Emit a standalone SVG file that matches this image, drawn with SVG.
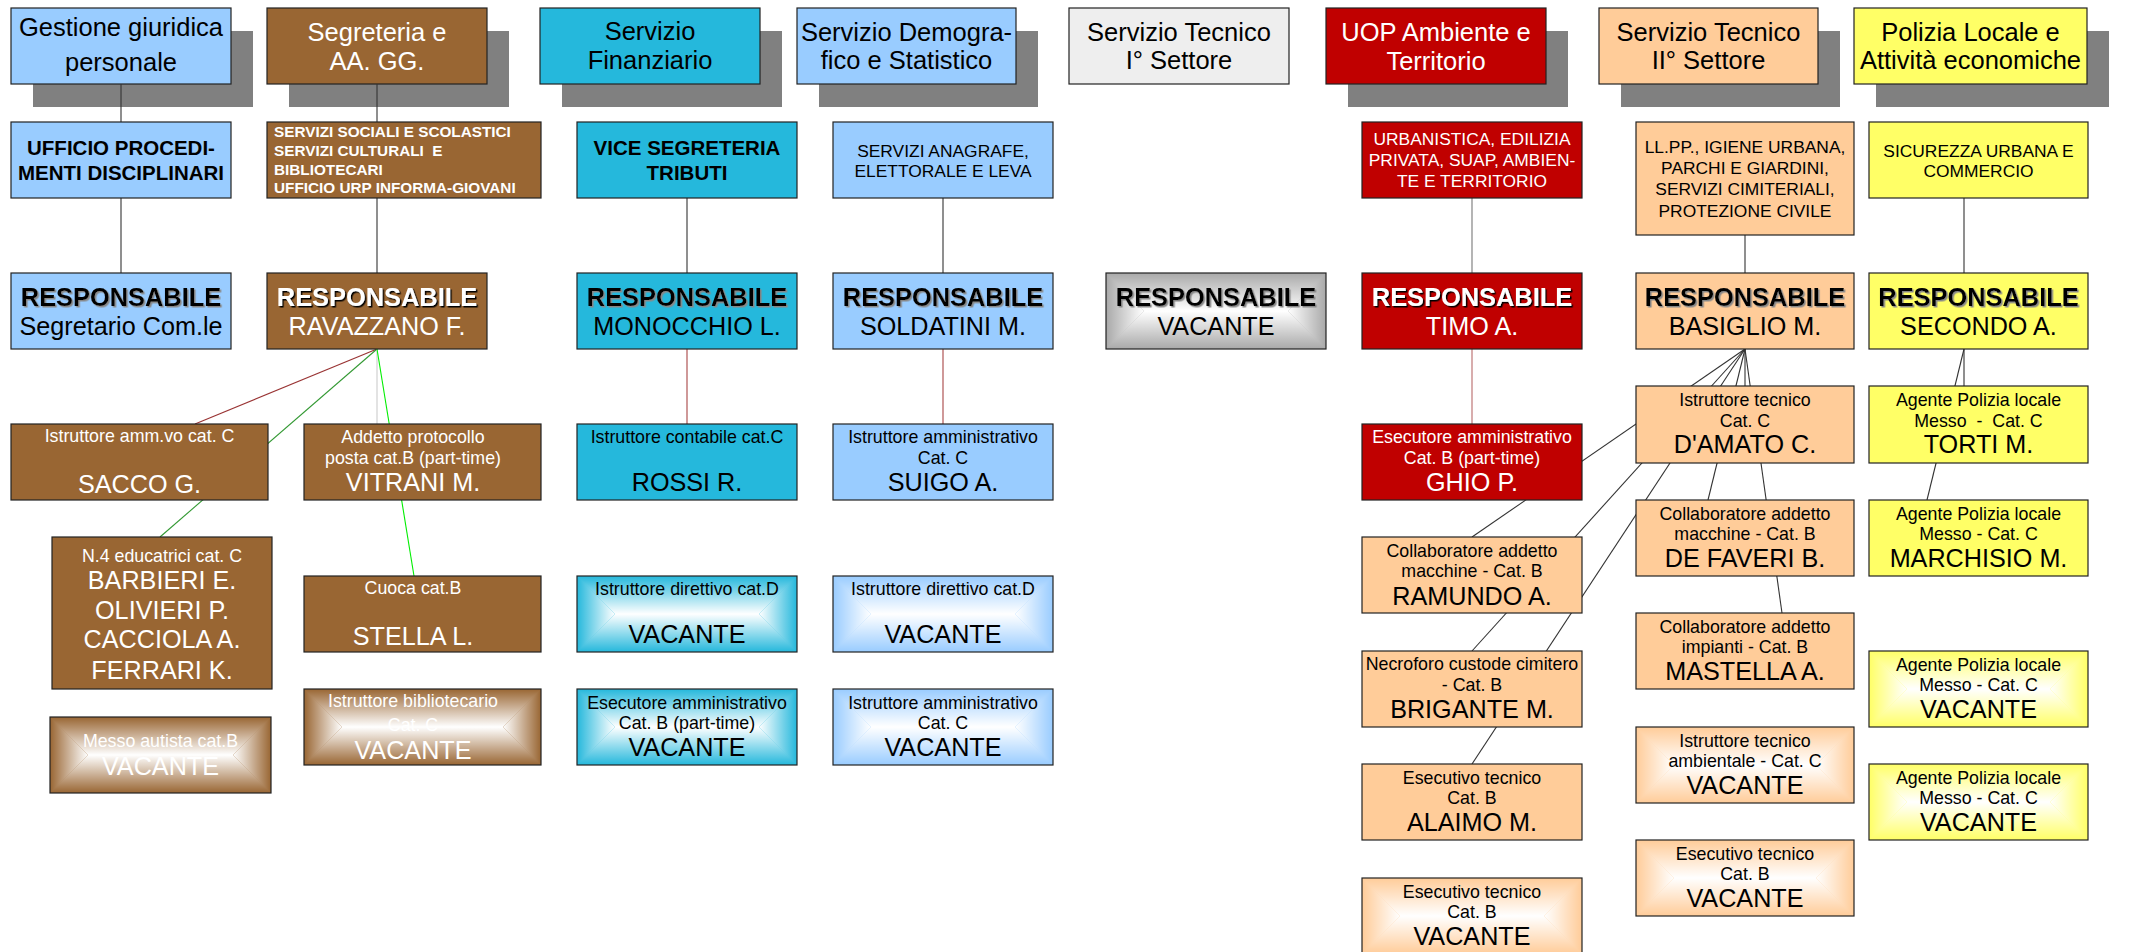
<svg xmlns="http://www.w3.org/2000/svg" width="2132" height="952" viewBox="0 0 2132 952">
<style>
.box{stroke:#222;stroke-width:1.2}
.frame{fill:none;stroke:#222;stroke-width:1.2}
.shd{fill:#808080}
text{font-family:"Liberation Sans",Arial,sans-serif;text-anchor:middle;fill:#000}
.h{font-size:25.5px}
.n{font-size:25.2px}
.s{font-size:17.8px}
.m{font-size:17.4px}
.b{font-size:20.5px;font-weight:bold}
.r{font-size:25.4px;font-weight:bold;filter:url(#dsk)}
.rw{font-size:25.4px;font-weight:bold;fill:#fff;filter:url(#dsw)}
.w{fill:#fff}
.lb{fill:#99ccff}.br{fill:#996633}.cy{fill:#25b8dc}.gy{fill:#eeeeee}.rd{fill:#c00000}.pc{fill:#ffcc99}.yl{fill:#ffff66}.gv{fill:#a9a9a9}
.gt{fill:url(#gT)}.gb{fill:url(#gB)}.gl{fill:url(#gL)}.gr{fill:url(#gR)}
.c{fill:none;stroke:#333;stroke-width:1.1}
</style>
<defs>
<filter id="dsk" x="-5%" y="-20%" width="110%" height="140%"><feDropShadow dx="1.5" dy="1.5" stdDeviation="0.4" flood-color="#888"/></filter>
<filter id="dsw" x="-5%" y="-20%" width="110%" height="140%"><feDropShadow dx="1.5" dy="1.5" stdDeviation="0.4" flood-color="#000"/></filter>
<linearGradient id="gT" x1="0" y1="0" x2="0" y2="1"><stop offset="0" stop-color="#fff" stop-opacity="0"/><stop offset="1" stop-color="#fff" stop-opacity="1"/></linearGradient>
<linearGradient id="gB" x1="0" y1="0" x2="0" y2="1"><stop offset="0" stop-color="#fff" stop-opacity="1"/><stop offset="1" stop-color="#fff" stop-opacity="0"/></linearGradient>
<linearGradient id="gL" x1="0" y1="0" x2="1" y2="0"><stop offset="0" stop-color="#fff" stop-opacity="0"/><stop offset="1" stop-color="#fff" stop-opacity="1"/></linearGradient>
<linearGradient id="gR" x1="0" y1="0" x2="1" y2="0"><stop offset="0" stop-color="#fff" stop-opacity="1"/><stop offset="1" stop-color="#fff" stop-opacity="0"/></linearGradient>
</defs>
<rect width="2132" height="952" fill="#fff"/>

<!-- Header nodes -->
<g id="h-gestione"><rect class="shd" x="33" y="31" width="220" height="76"/><rect class="box lb" x="11" y="8" width="220" height="76"/><text class="h" x="121" y="36">Gestione giuridica</text><text class="h" x="121" y="71">personale</text></g>
<g id="h-segreteria"><rect class="shd" x="289" y="31" width="220" height="76"/><rect class="box br" x="267" y="8" width="220" height="76"/><text class="h w" x="377" y="40.5">Segreteria e</text><text class="h w" x="377" y="69.5">AA. GG.</text></g>
<g id="h-finanziario"><rect class="shd" x="562" y="31" width="220" height="76"/><rect class="box cy" x="540" y="8" width="220" height="76"/><text class="h" x="650" y="40">Servizio</text><text class="h" x="650" y="69">Finanziario</text></g>
<g id="h-demografico"><rect class="shd" x="819" y="31" width="219" height="76"/><rect class="box lb" x="797" y="8" width="219" height="76"/><text class="h" x="906.5" y="40.5">Servizio Demogra-</text><text class="h" x="906.5" y="69">fico e Statistico</text></g>
<g id="h-tecnico1"><rect class="box gy" x="1069" y="8" width="220" height="76"/><text class="h" x="1179" y="40.5">Servizio Tecnico</text><text class="h" x="1179" y="69">I° Settore</text></g>
<g id="h-uop"><rect class="shd" x="1348" y="31" width="220" height="76"/><rect class="box rd" x="1326" y="8" width="220" height="76"/><text class="h w" x="1436" y="40.5">UOP Ambiente e</text><text class="h w" x="1436" y="69.5">Territorio</text></g>
<g id="h-tecnico2"><rect class="shd" x="1621" y="31" width="219" height="76"/><rect class="box pc" x="1599" y="8" width="219" height="76"/><text class="h" x="1708.5" y="40.5">Servizio Tecnico</text><text class="h" x="1708.5" y="69">II° Settore</text></g>
<g id="h-polizia"><rect class="shd" x="1876" y="31" width="233" height="76"/><rect class="box yl" x="1854" y="8" width="233" height="76"/><text class="h" x="1970.5" y="40.5">Polizia Locale e</text><text class="h" x="1970.5" y="69">Attività economiche</text></g>

<!-- Connectors -->
<g id="connectors">
<line class="c" x1="121" y1="84" x2="121" y2="122"/>
<line class="c" x1="121" y1="198" x2="121" y2="273"/>
<line class="c" x1="377" y1="84" x2="377" y2="122"/>
<line class="c" x1="377" y1="198" x2="377" y2="273"/>
<line class="c" x1="687" y1="198" x2="687" y2="273"/>
<line class="c" x1="943" y1="198" x2="943" y2="273"/>
<line class="c" x1="1472" y1="198" x2="1472" y2="273" style="stroke:#777"/>
<line class="c" x1="1745" y1="235" x2="1745" y2="273"/>
<line class="c" x1="1964" y1="198" x2="1964" y2="273"/>
<line class="c" x1="377" y1="349" x2="195" y2="424" style="stroke:#993333"/>
<line class="c" x1="377" y1="349" x2="160" y2="537" style="stroke:#339933"/>
<line class="c" x1="377" y1="349" x2="377" y2="424" style="stroke:#cccccc"/>
<line class="c" x1="377" y1="349" x2="414" y2="576" style="stroke:#00ee00"/>
<line class="c" x1="687" y1="349" x2="687" y2="424" style="stroke:#a84444"/>
<line class="c" x1="943" y1="349" x2="943" y2="424" style="stroke:#a84444"/>
<line class="c" x1="1472" y1="349" x2="1472" y2="424" style="stroke:#b86a6a"/>
<line class="c" x1="1745" y1="349" x2="1472" y2="537"/>
<line class="c" x1="1745" y1="349" x2="1472" y2="651"/>
<line class="c" x1="1745" y1="349" x2="1472" y2="764"/>
<line class="c" x1="1745" y1="349" x2="1708" y2="500"/>
<line class="c" x1="1745" y1="349" x2="1745" y2="386"/>
<line class="c" x1="1745" y1="349" x2="1782" y2="613"/>
<line class="c" x1="1964" y1="349" x2="1964" y2="386"/>
<line class="c" x1="1964" y1="349" x2="1927" y2="500"/>
</g>

<!-- Row 2 -->
<g id="u-ufficio"><rect class="box lb" x="11" y="122" width="220" height="76"/><text class="b" x="121" y="155">UFFICIO PROCEDI-</text><text class="b" x="121" y="180">MENTI DISCIPLINARI</text></g>
<g id="u-sociali"><rect class="box br" x="267" y="122" width="274" height="76"/>
<text class="w" style="font-size:15.3px;font-weight:bold;text-anchor:start" xml:space="preserve"><tspan x="274" y="136.7">SERVIZI SOCIALI E SCOLASTICI</tspan><tspan x="274" y="155.7">SERVIZI CULTURALI  E</tspan><tspan x="274" y="174.7">BIBLIOTECARI</tspan><tspan x="274" y="193.3">UFFICIO URP INFORMA-GIOVANI</tspan></text></g>
<g id="u-vice"><rect class="box cy" x="577" y="122" width="220" height="76"/><text class="b" x="687" y="155">VICE SEGRETERIA</text><text class="b" x="687" y="180">TRIBUTI</text></g>
<g id="u-anagrafe"><rect class="box lb" x="833" y="122" width="220" height="76"/><text class="m" x="943" y="156.7">SERVIZI ANAGRAFE,</text><text class="m" x="943" y="176.7">ELETTORALE E LEVA</text></g>
<g id="u-urbanistica"><rect class="box rd" x="1362" y="122" width="220" height="76"/><text class="m w" x="1472" y="145">URBANISTICA, EDILIZIA</text><text class="m w" x="1472" y="165.7">PRIVATA, SUAP, AMBIEN-</text><text class="m w" x="1472" y="186.5">TE E TERRITORIO</text></g>
<g id="u-llpp"><rect class="box pc" x="1636" y="122" width="218" height="113"/><text class="m" x="1745" y="153.3">LL.PP., IGIENE URBANA,</text><text class="m" x="1745" y="174">PARCHI E GIARDINI,</text><text class="m" x="1745" y="195">SERVIZI CIMITERIALI,</text><text class="m" x="1745" y="216.5">PROTEZIONE CIVILE</text></g>
<g id="u-sicurezza"><rect class="box yl" x="1869" y="122" width="219" height="76"/><text class="m" x="1978.5" y="156.7">SICUREZZA URBANA E</text><text class="m" x="1978.5" y="176.7">COMMERCIO</text></g>

<!-- Row 3: responsabili -->
<g id="r-segretario"><rect class="box lb" x="11" y="273" width="220" height="76"/><text class="r" x="121" y="305.7">RESPONSABILE</text><text class="n" x="121" y="334.5">Segretario Com.le</text></g>
<g id="r-ravazzano"><rect class="box br" x="267" y="273" width="220" height="76"/><text class="rw" x="377" y="305.7">RESPONSABILE</text><text class="n w" x="377" y="334.5">RAVAZZANO F.</text></g>
<g id="r-monocchio"><rect class="box cy" x="577" y="273" width="220" height="76"/><text class="r" x="687" y="305.7">RESPONSABILE</text><text class="n" x="687" y="334.5">MONOCCHIO L.</text></g>
<g id="r-soldatini"><rect class="box lb" x="833" y="273" width="220" height="76"/><text class="r" x="943" y="305.7">RESPONSABILE</text><text class="n" x="943" y="334.5">SOLDATINI M.</text></g>
<g id="r-vacante"><rect class="gv" x="1106" y="273" width="220" height="76"/><polygon class="gt" points="1106,273 1326,273 1288,311 1144,311"/><polygon class="gb" points="1144,311 1288,311 1326,349 1106,349"/><polygon class="gl" points="1106,273 1144,311 1106,349"/><polygon class="gr" points="1326,273 1288,311 1326,349"/><rect class="frame" x="1106" y="273" width="220" height="76"/><text class="r" x="1216" y="305.7">RESPONSABILE</text><text class="n" x="1216" y="334.5">VACANTE</text></g>
<g id="r-timo"><rect class="box rd" x="1362" y="273" width="220" height="76"/><text class="rw" x="1472" y="305.7">RESPONSABILE</text><text class="n w" x="1472" y="334.5">TIMO A.</text></g>
<g id="r-basiglio"><rect class="box pc" x="1636" y="273" width="218" height="76"/><text class="r" x="1745" y="305.7">RESPONSABILE</text><text class="n" x="1745" y="334.5">BASIGLIO M.</text></g>
<g id="r-secondo"><rect class="box yl" x="1869" y="273" width="219" height="76"/><text class="r" x="1978.5" y="305.7">RESPONSABILE</text><text class="n" x="1978.5" y="334.5">SECONDO A.</text></g>

<!-- Segreteria staff -->
<g id="s-sacco"><rect class="box br" x="11" y="424" width="257" height="76"/><text class="s w" x="139.5" y="441.7">Istruttore amm.vo cat. C</text><text class="n w" x="139.5" y="493.3">SACCO G.</text></g>
<g id="s-vitrani"><rect class="box br" x="304" y="424" width="237" height="76"/><text class="s w" x="413" y="443.3">Addetto protocollo</text><text class="s w" x="413" y="464">posta cat.B (part-time)</text><text class="n w" x="413" y="490.7">VITRANI M.</text></g>
<g id="s-educatrici"><rect class="box br" x="52" y="537" width="220" height="152"/><text class="s w" x="162" y="561.7">N.4 educatrici cat. C</text><text class="n w" x="162" y="589">BARBIERI E.</text><text class="n w" x="162" y="618.7">OLIVIERI P.</text><text class="n w" x="162" y="648.4">CACCIOLA A.</text><text class="n w" x="162" y="678.5">FERRARI K.</text></g>
<g id="s-stella"><rect class="box br" x="304" y="576" width="237" height="76"/><text class="s w" x="413" y="594">Cuoca cat.B</text><text class="n w" x="413" y="645">STELLA L.</text></g>
<g id="s-messo"><rect class="br" x="50" y="717" width="221" height="76"/><polygon class="gt" points="50,717 271,717 233,755 88,755"/><polygon class="gb" points="88,755 233,755 271,793 50,793"/><polygon class="gl" points="50,717 88,755 50,793"/><polygon class="gr" points="271,717 233,755 271,793"/><rect class="frame" x="50" y="717" width="221" height="76"/><text class="s w" x="160.5" y="747.3">Messo autista cat.B</text><text class="n w" x="160.5" y="775">VACANTE</text></g>
<g id="s-bibliotecario"><rect class="br" x="304" y="689" width="237" height="76"/><polygon class="gt" points="304,689 541,689 503,727 342,727"/><polygon class="gb" points="342,727 503,727 541,765 304,765"/><polygon class="gl" points="304,689 342,727 304,765"/><polygon class="gr" points="541,689 503,727 541,765"/><rect class="frame" x="304" y="689" width="237" height="76"/><text class="s w" x="413" y="706.7">Istruttore bibliotecario</text><text class="s w" x="413" y="730.7">Cat. C</text><text class="n w" x="413" y="759">VACANTE</text></g>

<!-- Finanziario staff -->
<g id="f-rossi"><rect class="box cy" x="577" y="424" width="220" height="76"/><text class="s" x="687" y="443.3">Istruttore contabile cat.C</text><text class="n" x="687" y="490.7">ROSSI R.</text></g>
<g id="f-direttivo"><rect class="cy" x="577" y="576" width="220" height="76"/><polygon class="gt" points="577,576 797,576 759,614 615,614"/><polygon class="gb" points="615,614 759,614 797,652 577,652"/><polygon class="gl" points="577,576 615,614 577,652"/><polygon class="gr" points="797,576 759,614 797,652"/><rect class="frame" x="577" y="576" width="220" height="76"/><text class="s" x="687" y="595">Istruttore direttivo cat.D</text><text class="n" x="687" y="643">VACANTE</text></g>
<g id="f-esecutore"><rect class="cy" x="577" y="689" width="220" height="76"/><polygon class="gt" points="577,689 797,689 759,727 615,727"/><polygon class="gb" points="615,727 759,727 797,765 577,765"/><polygon class="gl" points="577,689 615,727 577,765"/><polygon class="gr" points="797,689 759,727 797,765"/><rect class="frame" x="577" y="689" width="220" height="76"/><text class="s" x="687" y="708.5">Esecutore amministrativo</text><text class="s" x="687" y="729">Cat. B (part-time)</text><text class="n" x="687" y="756">VACANTE</text></g>

<!-- Demografico staff -->
<g id="d-suigo"><rect class="box lb" x="833" y="424" width="220" height="76"/><text class="s" x="943" y="443.3">Istruttore amministrativo</text><text class="s" x="943" y="463.5">Cat. C</text><text class="n" x="943" y="490.7">SUIGO A.</text></g>
<g id="d-direttivo"><rect class="lb" x="833" y="576" width="220" height="76"/><polygon class="gt" points="833,576 1053,576 1015,614 871,614"/><polygon class="gb" points="871,614 1015,614 1053,652 833,652"/><polygon class="gl" points="833,576 871,614 833,652"/><polygon class="gr" points="1053,576 1015,614 1053,652"/><rect class="frame" x="833" y="576" width="220" height="76"/><text class="s" x="943" y="595">Istruttore direttivo cat.D</text><text class="n" x="943" y="643">VACANTE</text></g>
<g id="d-amministrativo"><rect class="lb" x="833" y="689" width="220" height="76"/><polygon class="gt" points="833,689 1053,689 1015,727 871,727"/><polygon class="gb" points="871,727 1015,727 1053,765 833,765"/><polygon class="gl" points="833,689 871,727 833,765"/><polygon class="gr" points="1053,689 1015,727 1053,765"/><rect class="frame" x="833" y="689" width="220" height="76"/><text class="s" x="943" y="708.5">Istruttore amministrativo</text><text class="s" x="943" y="729">Cat. C</text><text class="n" x="943" y="756">VACANTE</text></g>

<!-- UOP staff -->
<g id="o-ghio"><rect class="box rd" x="1362" y="424" width="220" height="76"/><text class="s w" x="1472" y="443.3">Esecutore amministrativo</text><text class="s w" x="1472" y="464">Cat. B (part-time)</text><text class="n w" x="1472" y="490.7">GHIO P.</text></g>
<g id="o-ramundo"><rect class="box pc" x="1362" y="537" width="220" height="76"/><text class="s" x="1472" y="556.7">Collaboratore addetto</text><text class="s" x="1472" y="577.3">macchine - Cat. B</text><text class="n" x="1472" y="604.5">RAMUNDO A.</text></g>
<g id="o-brigante"><rect class="box pc" x="1362" y="651" width="220" height="76"/><text class="s" x="1472" y="670">Necroforo custode cimitero</text><text class="s" x="1472" y="690.7">- Cat. B</text><text class="n" x="1472" y="718">BRIGANTE M.</text></g>
<g id="o-alaimo"><rect class="box pc" x="1362" y="764" width="220" height="76"/><text class="s" x="1472" y="783.5">Esecutivo tecnico</text><text class="s" x="1472" y="804">Cat. B</text><text class="n" x="1472" y="831">ALAIMO M.</text></g>
<g id="o-esecutivo"><rect class="pc" x="1362" y="878" width="220" height="76"/><polygon class="gt" points="1362,878 1582,878 1544,916 1400,916"/><polygon class="gb" points="1400,916 1544,916 1582,954 1362,954"/><polygon class="gl" points="1362,878 1400,916 1362,954"/><polygon class="gr" points="1582,878 1544,916 1582,954"/><rect class="frame" x="1362" y="878" width="220" height="76"/><text class="s" x="1472" y="897.5">Esecutivo tecnico</text><text class="s" x="1472" y="918">Cat. B</text><text class="n" x="1472" y="945">VACANTE</text></g>

<!-- Tecnico II staff -->
<g id="t-damato"><rect class="box pc" x="1636" y="386" width="218" height="77"/><text class="s" x="1745" y="406">Istruttore tecnico</text><text class="s" x="1745" y="426.7">Cat. C</text><text class="n" x="1745" y="453.3">D'AMATO C.</text></g>
<g id="t-defaveri"><rect class="box pc" x="1636" y="500" width="218" height="76"/><text class="s" x="1745" y="519.5">Collaboratore addetto</text><text class="s" x="1745" y="540">macchine - Cat. B</text><text class="n" x="1745" y="567">DE FAVERI B.</text></g>
<g id="t-mastella"><rect class="box pc" x="1636" y="613" width="218" height="76"/><text class="s" x="1745" y="632.5">Collaboratore addetto</text><text class="s" x="1745" y="653">impianti - Cat. B</text><text class="n" x="1745" y="680">MASTELLA A.</text></g>
<g id="t-ambientale"><rect class="pc" x="1636" y="727" width="218" height="76"/><polygon class="gt" points="1636,727 1854,727 1816,765 1674,765"/><polygon class="gb" points="1674,765 1816,765 1854,803 1636,803"/><polygon class="gl" points="1636,727 1674,765 1636,803"/><polygon class="gr" points="1854,727 1816,765 1854,803"/><rect class="frame" x="1636" y="727" width="218" height="76"/><text class="s" x="1745" y="746.5">Istruttore tecnico</text><text class="s" x="1745" y="767">ambientale - Cat. C</text><text class="n" x="1745" y="794">VACANTE</text></g>
<g id="t-esecutivo"><rect class="pc" x="1636" y="840" width="218" height="76"/><polygon class="gt" points="1636,840 1854,840 1816,878 1674,878"/><polygon class="gb" points="1674,878 1816,878 1854,916 1636,916"/><polygon class="gl" points="1636,840 1674,878 1636,916"/><polygon class="gr" points="1854,840 1816,878 1854,916"/><rect class="frame" x="1636" y="840" width="218" height="76"/><text class="s" x="1745" y="859.5">Esecutivo tecnico</text><text class="s" x="1745" y="880">Cat. B</text><text class="n" x="1745" y="907">VACANTE</text></g>

<!-- Polizia staff -->
<g id="p-torti"><rect class="box yl" x="1869" y="386" width="219" height="77"/><text class="s" x="1978.5" y="406">Agente Polizia locale</text><text class="s" x="1978.5" y="426.7" xml:space="preserve">Messo  -  Cat. C</text><text class="n" x="1978.5" y="453.3">TORTI M.</text></g>
<g id="p-marchisio"><rect class="box yl" x="1869" y="500" width="219" height="76"/><text class="s" x="1978.5" y="519.5">Agente Polizia locale</text><text class="s" x="1978.5" y="540">Messo - Cat. C</text><text class="n" x="1978.5" y="567">MARCHISIO M.</text></g>
<g id="p-vacante1"><rect class="yl" x="1869" y="651" width="219" height="76"/><polygon class="gt" points="1869,651 2088,651 2050,689 1907,689"/><polygon class="gb" points="1907,689 2050,689 2088,727 1869,727"/><polygon class="gl" points="1869,651 1907,689 1869,727"/><polygon class="gr" points="2088,651 2050,689 2088,727"/><rect class="frame" x="1869" y="651" width="219" height="76"/><text class="s" x="1978.5" y="670.5">Agente Polizia locale</text><text class="s" x="1978.5" y="691">Messo - Cat. C</text><text class="n" x="1978.5" y="718">VACANTE</text></g>
<g id="p-vacante2"><rect class="yl" x="1869" y="764" width="219" height="76"/><polygon class="gt" points="1869,764 2088,764 2050,802 1907,802"/><polygon class="gb" points="1907,802 2050,802 2088,840 1869,840"/><polygon class="gl" points="1869,764 1907,802 1869,840"/><polygon class="gr" points="2088,764 2050,802 2088,840"/><rect class="frame" x="1869" y="764" width="219" height="76"/><text class="s" x="1978.5" y="783.5">Agente Polizia locale</text><text class="s" x="1978.5" y="804">Messo - Cat. C</text><text class="n" x="1978.5" y="831">VACANTE</text></g>
</svg>
